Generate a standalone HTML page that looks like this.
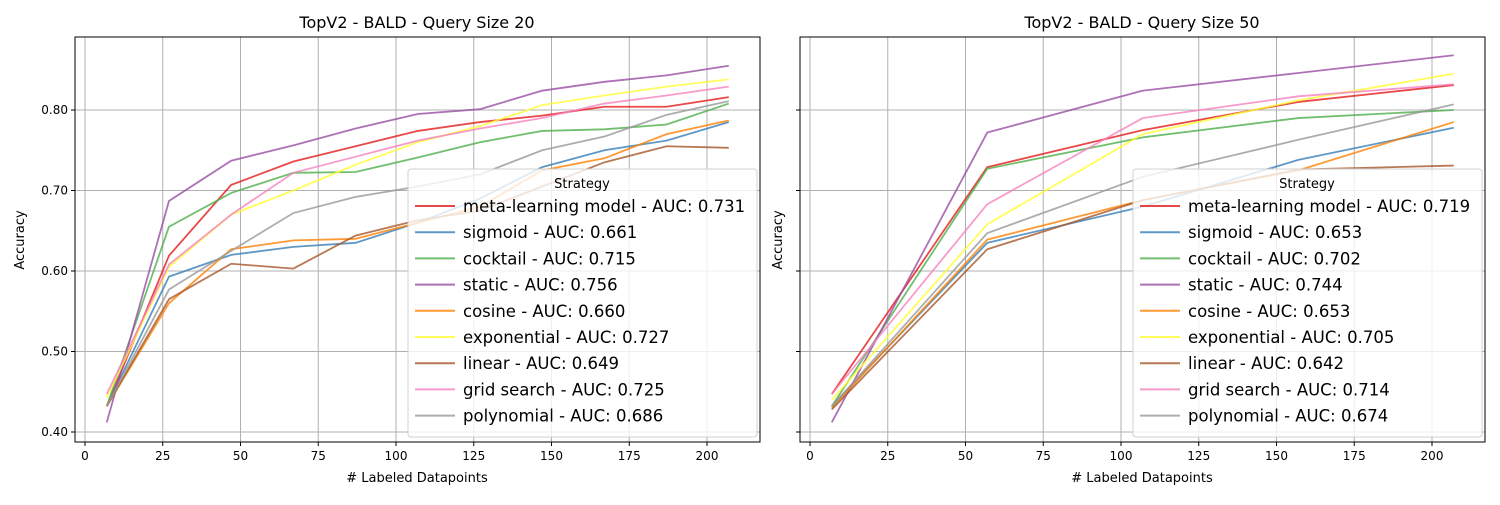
<!DOCTYPE html>
<html><head><meta charset="utf-8"><style>
body{margin:0;background:#fff;font-family:"Liberation Sans","DejaVu Sans",sans-serif}
svg text{font-family:"DejaVu Sans","Liberation Sans",sans-serif}
</style></head><body>
<svg id="c" width="1500" height="500"></svg>
<script>
const names=["meta-learning model","sigmoid","cocktail","static","cosine","exponential","linear","grid search","polynomial"];
const colors=["#e41a1c","#377eb8","#4daf4a","#984ea3","#ff7f00","#ffff33","#a65628","#f781bf","#999999"];
const xTicks=[0,25,50,75,100,125,150,175,200];
const yTicks=[0.40,0.50,0.60,0.70,0.80];
const x1=[7,27,47,67,87,107,127,147,167,187,207];
const s1=[
[0.432,0.619,0.707,0.736,0.755,0.774,0.785,0.793,0.804,0.804,0.816],
[0.432,0.593,0.620,0.630,0.635,0.660,0.690,0.729,0.750,0.762,0.785],
[0.432,0.655,0.697,0.722,0.723,0.741,0.760,0.774,0.776,0.782,0.808],
[0.412,0.687,0.737,0.756,0.777,0.795,0.801,0.824,0.835,0.843,0.855],
[0.432,0.560,0.627,0.638,0.640,0.660,0.680,0.725,0.740,0.770,0.787],
[0.443,0.605,0.670,0.700,0.732,0.760,0.780,0.806,0.818,0.829,0.838],
[0.432,0.565,0.609,0.603,0.644,0.663,0.675,0.705,0.735,0.755,0.753],
[0.447,0.608,0.670,0.722,0.742,0.762,0.777,0.790,0.808,0.818,0.829],
[0.432,0.577,0.625,0.672,0.692,0.705,0.720,0.750,0.767,0.794,0.811]];
const auc1=["0.731","0.661","0.715","0.756","0.660","0.727","0.649","0.725","0.686"];
const x2=[7,57,107,157,207];
const s2=[
[0.447,0.729,0.775,0.810,0.831],
[0.432,0.635,0.680,0.738,0.778],
[0.432,0.727,0.766,0.790,0.800],
[0.412,0.772,0.824,0.846,0.868],
[0.430,0.639,0.688,0.725,0.785],
[0.440,0.658,0.770,0.812,0.845],
[0.428,0.627,0.688,0.726,0.731],
[0.447,0.683,0.790,0.817,0.832],
[0.432,0.647,0.717,0.763,0.807]];
const auc2=["0.719","0.653","0.702","0.744","0.653","0.705","0.642","0.714","0.674"];

const svg=document.getElementById('c');const NS="http://www.w3.org/2000/svg";
function el(t,a,p){const e=document.createElementNS(NS,t);for(const k in a)e.setAttribute(k,a[k]);(p||svg).appendChild(e);return e;}
function panel(L,title,xs,series,aucs,showY,key){
  const R=L+685,T=37,B=442;
  const g=el('g',{});
  
  
  const X=v=>L+10+(v)*3.11, Y=v=>432-(v-0.40)*805;
  xTicks.forEach(t=>{el('line',{x1:X(t),x2:X(t),y1:T,y2:B,stroke:'#b0b0b0','stroke-width':1},g);
    el('line',{x1:X(t),x2:X(t),y1:B,y2:B+4,stroke:'#000'},g);
    const tx=el('text',{x:X(t),y:B+18,'text-anchor':'middle','font-size':12},g);tx.textContent=t;
    });
  yTicks.forEach(t=>{el('line',{x1:L,x2:R,y1:Y(t),y2:Y(t),stroke:'#b0b0b0'},g);
    el('line',{x1:L-4,x2:L,y1:Y(t),y2:Y(t),stroke:'#000'},g);
    if(showY){const tx=el('text',{x:L-7,y:Y(t)+4,'text-anchor':'end','font-size':12},g);tx.textContent=t.toFixed(2);
    }});
  series.forEach((s,i)=>{const p=el('polyline',{points:s.map((v,j)=>X(xs[j])+','+Y(v)).join(' '),fill:'none',stroke:colors[i],'stroke-width':1.8,'stroke-opacity':0.8},g);
    });
  el('rect',{x:L,y:T,width:685,height:B-T,fill:'none',stroke:'#000','stroke-width':1},g);
  const tt=el('text',{x:L+342,y:28,'text-anchor':'middle','font-size':16},g);tt.textContent=title;
  
  const xl=el('text',{x:L+342,y:482,'text-anchor':'middle','font-size':13},g);xl.textContent='# Labeled Datapoints';
  
  const yx=showY?L-51:L-18;
  const yl=el('text',{x:0,y:0,'text-anchor':'middle','font-size':13,transform:`translate(${yx},240) rotate(-90)`},g);yl.textContent='Accuracy';
  
  const lg=el('g',{},g);
  
  const lx=L+333;
  el('rect',{x:lx,y:169,width:349,height:268,rx:3,fill:'#fff','fill-opacity':0.8,stroke:'#d0d0d0'},lg);
  const lt=el('text',{x:lx+174,y:188,'text-anchor':'middle','font-size':13},lg);lt.textContent='Strategy';
  names.forEach((n,i)=>{const y=206+i*26.2;
    el('line',{x1:lx+7,x2:lx+47,y1:y,y2:y,stroke:colors[i],'stroke-width':2,'stroke-opacity':0.8},lg);
    const e=el('text',{x:lx+55,y:y+6,'font-size':16.5},lg);e.textContent=n+' - AUC: '+aucs[i];
    });
}
panel(75,'TopV2 - BALD - Query Size 20',x1,s1,auc1,true,'left');
panel(800,'TopV2 - BALD - Query Size 50',x2,s2,auc2,false,'right');
</script>
</body></html>
